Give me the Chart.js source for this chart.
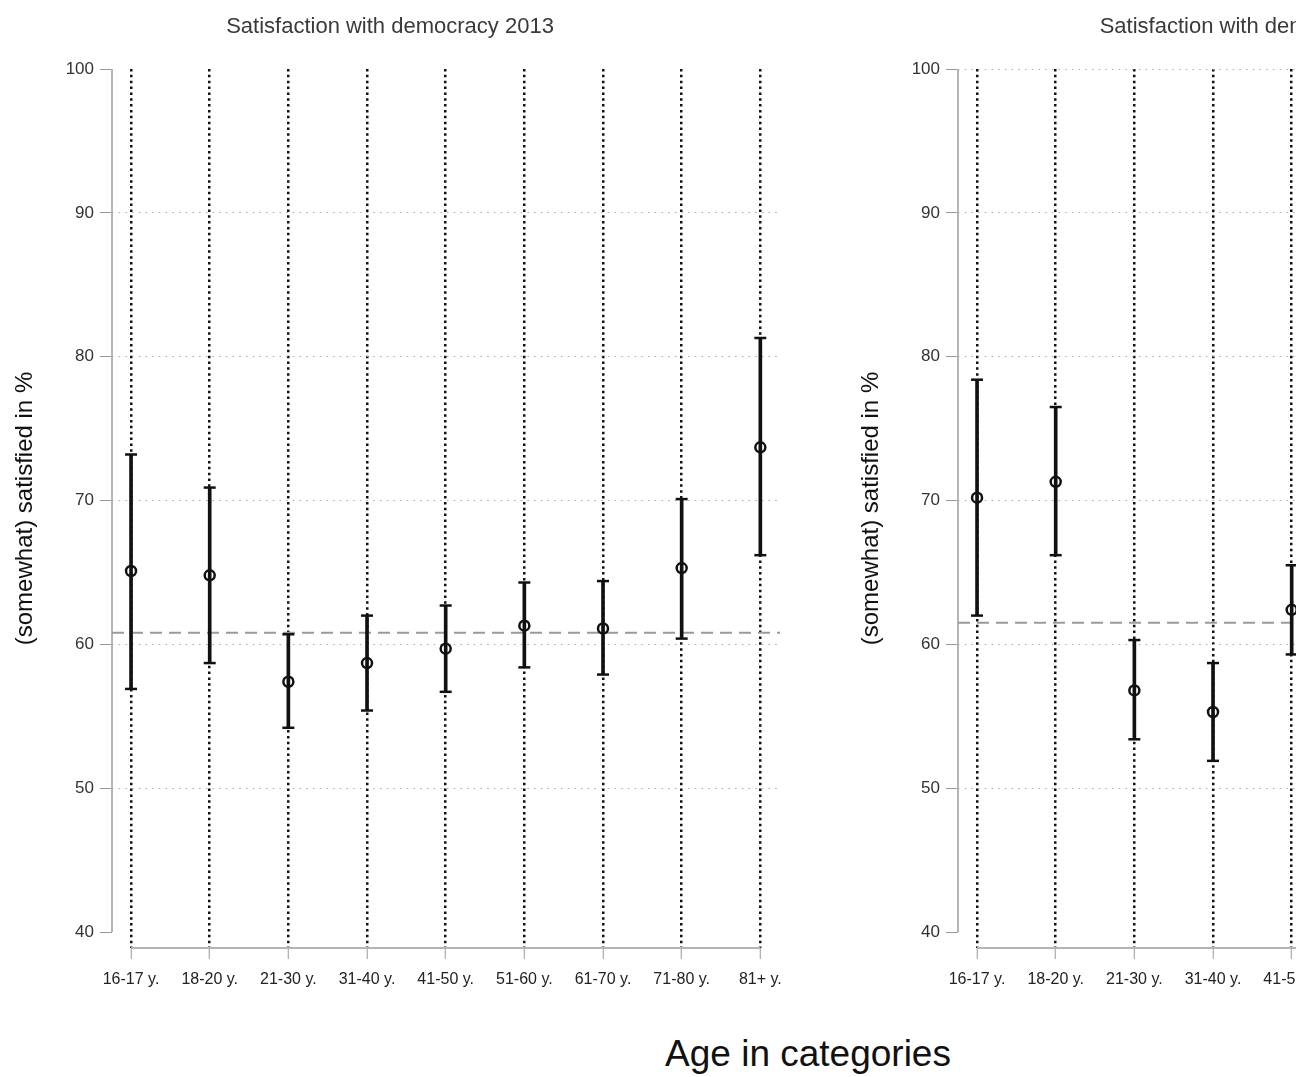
<!DOCTYPE html>
<html>
<head>
<meta charset="utf-8">
<script src="https://cdn.jsdelivr.net/npm/chart.js@4"></script>
<style>
  html, body { margin: 0; padding: 0; background: #fff; }
  body { width: 1296px; height: 1077px; overflow: hidden; position: relative; }
  canvas { position: absolute; top: 0; }
  #left { left: 0; }
  #right { left: 846px; }
  #xtitle {
    position: absolute; left: 0; width: 1616px; top: 1034px;
    text-align: center; font: 37px "Liberation Sans", Arial, sans-serif;
    line-height: 40px; color: #111;
  }
</style>
</head>
<body>
<canvas id="left" width="800" height="1008"></canvas>
<canvas id="right" width="800" height="1008"></canvas>
<div id="xtitle">Age in categories</div>
<script>
const categories = ['16-17 y.', '18-20 y.', '21-30 y.', '31-40 y.', '41-50 y.', '51-60 y.', '61-70 y.', '71-80 y.', '81+ y.'];
const yTicks = [40, 50, 60, 70, 80, 90, 100];

// 2013 panel
const mean2013 = [65.1, 64.8, 57.4, 58.7, 59.7, 61.3, 61.1, 65.3, 73.7];
const low2013  = [56.9, 58.7, 54.2, 55.4, 56.7, 58.4, 57.9, 60.4, 66.2];
const high2013 = [73.2, 70.9, 60.7, 62.0, 62.7, 64.3, 64.4, 70.1, 81.3];
const avg2013 = 60.8;

// second panel (only the first five groups are visible in the picture)
const meanRight = [70.2, 71.3, 56.8, 55.3, 62.4, null, null, null, null];
const lowRight  = [62.0, 66.2, 53.4, 51.9, 59.3, null, null, null, null];
const highRight = [78.4, 76.5, 60.3, 58.7, 65.5, null, null, null, null];
const avgRight = 61.5;

const xMin = -0.242, xMax = 8.25;
const labelFamily = '"Liberation Sans", Arial, sans-serif';

const stataAxes = {
    id: 'stataAxes',
    beforeDatasetsDraw(chart) {
        const { ctx, chartArea, scales: { x, y } } = chart;
        ctx.save();
        ctx.strokeStyle = '#b4b4b4';
        ctx.lineWidth = 2;
        ctx.beginPath();
        ctx.moveTo(chartArea.left, y.getPixelForValue(yTicks[0]));
        ctx.lineTo(chartArea.left, y.getPixelForValue(yTicks[yTicks.length - 1]));
        ctx.moveTo(x.getPixelForValue(0), chartArea.bottom);
        ctx.lineTo(x.getPixelForValue(categories.length - 1), chartArea.bottom);
        ctx.stroke();
        ctx.restore();
    }
};

function makePanel(id, title, means, lows, highs, avg, gridValues) {
    const idx = categories.map((c, i) => i).filter(i => means[i] !== null);
    const whiskers = idx.map(i => ({ x: i, y: [lows[i], highs[i]] }));
    const caps = idx.flatMap(i => [{ x: i, y: lows[i] }, { x: i, y: highs[i] }]);
    const points = idx.map(i => ({ x: i, y: means[i] }));

    new Chart(document.getElementById(id), {
        type: 'scatter',
        data: {
            datasets: [
                {
                    type: 'line',
                    data: [{ x: xMin, y: avg }, { x: xMax, y: avg }],
                    borderColor: '#9a9a9a',
                    borderWidth: 2,
                    borderDash: [12, 7],
                    pointRadius: 0,
                    order: 4
                },
                {
                    type: 'bar',
                    data: whiskers,
                    backgroundColor: '#111',
                    borderWidth: 0,
                    barThickness: 3,
                    order: 3
                },
                {
                    data: caps,
                    pointStyle: 'line',
                    pointRadius: 6,
                    borderColor: '#111',
                    borderWidth: 2.5,
                    order: 2
                },
                {
                    data: points,
                    pointStyle: 'circle',
                    pointRadius: 5,
                    borderColor: '#111',
                    backgroundColor: 'rgba(0,0,0,0)',
                    borderWidth: 2.5,
                    order: 1
                }
            ]
        },
        options: {
            responsive: false,
            animation: false,
            layout: { padding: { right: 20 } },
            plugins: {
                legend: { display: false },
                tooltip: { enabled: false },
                title: {
                    display: true,
                    text: title,
                    color: '#3a3a3a',
                    font: { family: labelFamily, size: 22, weight: 'normal' },
                    padding: { top: 14, bottom: 28.6 }
                }
            },
            scales: {
                x: {
                    type: 'linear',
                    offset: false,
                    min: xMin,
                    max: xMax,
                    afterBuildTicks: s => { s.ticks = categories.map((c, i) => ({ value: i })); },
                    afterFit: s => { s.height = 60; s.paddingLeft = 0; s.paddingRight = 0; },
                    ticks: {
                        callback: v => categories[v],
                        color: '#222',
                        font: { family: labelFamily, size: 16 },
                        padding: 11,
                        maxRotation: 0,
                        autoSkip: false
                    },
                    grid: {
                        offset: false,
                        color: '#111',
                        lineWidth: 2.5,
                        tickColor: '#999',
                        tickLength: 11,
                        tickWidth: 1
                    },
                    border: { display: false, dash: [2.5, 3.35] }
                },
                y: {
                    type: 'linear',
                    min: 38.89,
                    max: 100,
                    afterBuildTicks: s => { s.ticks = yTicks.map(v => ({ value: v })); },
                    afterFit: s => { s.width = 112; s.paddingTop = 0; s.paddingBottom = 0; },
                    ticks: { color: '#333', font: { family: labelFamily, size: 17 }, padding: 6 },
                    grid: {
                        color: c => (c.tick && gridValues.includes(c.tick.value)) ? '#aaa' : 'rgba(0,0,0,0)',
                        lineWidth: 1,
                        tickColor: '#999',
                        tickLength: 12,
                        tickWidth: 1
                    },
                    border: { display: false, dash: [1.5, 5.2] },
                    title: {
                        display: true,
                        text: '(somewhat) satisfied in %',
                        color: '#111',
                        font: { family: labelFamily, size: 24 },
                        padding: { top: 11, bottom: 0 }
                    }
                }
            }
        },
        plugins: [stataAxes]
    });
}

makePanel('left', 'Satisfaction with democracy 2013', mean2013, low2013, high2013, avg2013, [50, 60, 70, 80, 90]);
makePanel('right', 'Satisfaction with democracy', meanRight, lowRight, highRight, avgRight, [50, 60, 70, 80, 90, 100]);
</script>
</body>
</html>
